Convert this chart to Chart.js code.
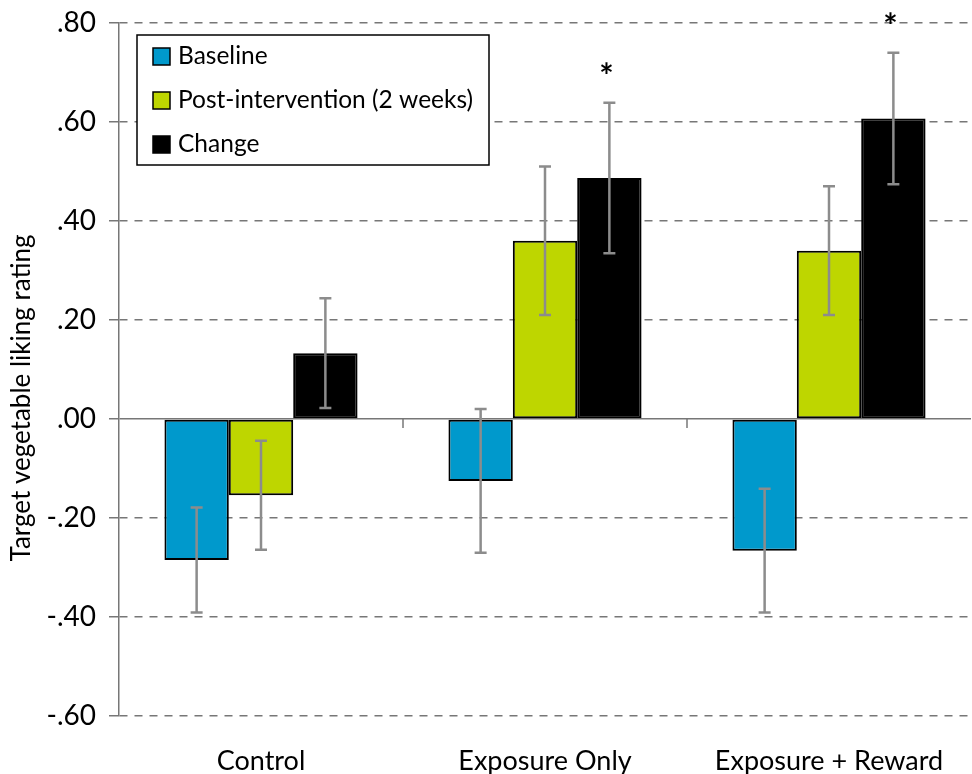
<!DOCTYPE html>
<html>
<head>
<meta charset="utf-8">
<script src="https://cdn.jsdelivr.net/npm/chart.js@4.4.1/dist/chart.umd.min.js"></script>
<style>
  html, body { margin: 0; padding: 0; background: #fff; }
  #wrap { width: 972px; height: 774px; }
</style>
</head>
<body>
<div id="wrap"><canvas id="chart"></canvas></div>
<script>
// ---- data ----
const categories = ["Control", "Exposure Only", "Exposure + Reward"];
const seriesNames = ["Baseline", "Post-intervention (2 weeks)", "Change"];

const baseline = [-0.285, -0.125, -0.266];
const baselineErr = [0.106, 0.145, 0.125];

const postIntervention = [-0.154, 0.36, 0.34];
const postErr = [0.11, 0.15, 0.13];

const change = [0.133, 0.487, 0.607];
const changeErr = [0.111, 0.152, 0.133];
const changeSignificant = [false, true, true];

const yTicks = [-0.6, -0.4, -0.2, 0, 0.2, 0.4, 0.6, 0.8];

const FONT = "Lato, 'Open Sans', sans-serif";
const colors = ["#0099cc", "#bed600", "#000000"];

function fmtTick(v) {
    // .80 / -.20 style labels
    const s = Math.abs(v).toFixed(2).replace(/^0/, "");
    return (v < 0 ? "-" : "") + s;
}

// ---- error bars + significance stars ----
const errorBars = {
    id: "errorBars",
    afterDatasetsDraw(chart) {
        const ctx = chart.ctx;
        const y = chart.scales.y;
        ctx.save();
        ctx.strokeStyle = "#8c8c8c";
        ctx.lineWidth = 2.5;
        chart.data.datasets.forEach((ds, di) => {
            const meta = chart.getDatasetMeta(di);
            meta.data.forEach((bar, i) => {
                const v = ds.data[i], e = ds.errors[i];
                const yTop = y.getPixelForValue(v + e);
                const yBot = y.getPixelForValue(v - e);
                ctx.beginPath();
                ctx.moveTo(bar.x, yTop); ctx.lineTo(bar.x, yBot);
                ctx.moveTo(bar.x - 6, yTop); ctx.lineTo(bar.x + 6, yTop);
                ctx.moveTo(bar.x - 6, yBot); ctx.lineTo(bar.x + 6, yBot);
                ctx.stroke();
                if (ds.stars && ds.stars[i]) {
                    ctx.fillStyle = "#000";
                    ctx.font = "bold 34px " + FONT;
                    ctx.textAlign = "center";
                    ctx.textBaseline = "middle";
                    ctx.fillText("*", bar.x - 3, yTop - 26);
                }
            });
        });
        ctx.restore();
    }
};

// ---- category ticks on the zero line, legend box, y title ----
const decorations = {
    id: "decorations",
    afterDraw(chart) {
        const ctx = chart.ctx;
        const area = chart.chartArea;
        const x = chart.scales.x, y = chart.scales.y;
        ctx.save();

        // little tick marks between categories, hanging off the zero line
        const y0 = y.getPixelForValue(0);
        ctx.strokeStyle = "#777";
        ctx.lineWidth = 1.5;
        for (let i = 0; i < categories.length - 1; i++) {
            const bx = (x.getPixelForValue(i) + x.getPixelForValue(i + 1)) / 2;
            ctx.beginPath();
            ctx.moveTo(bx, y0);
            ctx.lineTo(bx, y0 + 9);
            ctx.stroke();
        }

        // legend
        const lx = area.left + 18, ly = area.top + 12;
        ctx.fillStyle = "#fff";
        ctx.fillRect(lx, ly, 352, 130);
        ctx.strokeStyle = "#000";
        ctx.lineWidth = 1.5;
        ctx.strokeRect(lx, ly, 352, 130);
        ctx.font = "24.5px " + FONT;
        ctx.textAlign = "left";
        ctx.textBaseline = "middle";
        chart.data.datasets.forEach((ds, i) => {
            const ry = ly + 21 + i * 44;
            ctx.fillStyle = ds.backgroundColor;
            ctx.fillRect(lx + 16, ry - 8, 17, 17);
            ctx.strokeStyle = "#000";
            ctx.lineWidth = 1.5;
            ctx.strokeRect(lx + 16, ry - 8, 17, 17);
            ctx.fillStyle = "#000";
            ctx.fillText(ds.label, lx + 41, ry);
        });

        // y axis title
        ctx.translate(22, 398);
        ctx.rotate(-Math.PI / 2);
        ctx.font = "26px " + FONT;
        ctx.textAlign = "center";
        ctx.textBaseline = "middle";
        ctx.fillStyle = "#000";
        ctx.fillText("Target vegetable liking rating", 0, 0);
        ctx.restore();
    }
};

const allValues = [baseline, postIntervention, change];
const allErrors = [baselineErr, postErr, changeErr];

new Chart(document.getElementById("chart"), {
    type: "bar",
    data: {
        labels: categories,
        datasets: seriesNames.map((name, i) => ({
            label: name,
            data: allValues[i],
            errors: allErrors[i],
            stars: i === 2 ? changeSignificant : null,
            backgroundColor: colors[i],
            borderColor: "#000",
            borderWidth: 2,
            borderSkipped: false,
            categoryPercentage: 0.68,
            barPercentage: 1.0
        }))
    },
    options: {
        responsive: true,
        maintainAspectRatio: false,
        animation: false,
        layout: { padding: { top: 23, left: 0, right: 1, bottom: 0 } },
        plugins: {
            legend: { display: false },
            tooltip: { enabled: false }
        },
        scales: {
            x: {
                grid: { display: false },
                border: { display: false },
                ticks: {
                    color: "#000",
                    padding: 21,
                    font: { family: FONT, size: 27 }
                },
                afterFit: s => { s.height = 58; }
            },
            y: {
                min: -0.6,
                max: 0.8,
                afterBuildTicks: s => { s.ticks = yTicks.map(v => ({ value: v })); },
                afterFit: s => {
                    s.width = 119;
                    s.paddingTop = 0;
                    s.paddingBottom = 0;
                },
                ticks: {
                    color: "#000",
                    padding: 13,
                    font: { family: FONT, size: 28 },
                    callback: v => fmtTick(v)
                },
                grid: {
                    color: "#777",
                    lineWidth: 1.5,
                    tickLength: 10,
                    tickColor: "#777",
                    tickWidth: 1.5
                },
                border: {
                    display: true,
                    color: "#777",
                    width: 1.5,
                    dash: ctx => (ctx.tick && ctx.tick.value === 0) ? [] : [8, 7]
                }
            }
        }
    },
    plugins: [errorBars, decorations]
});
</script>
</body>
</html>
